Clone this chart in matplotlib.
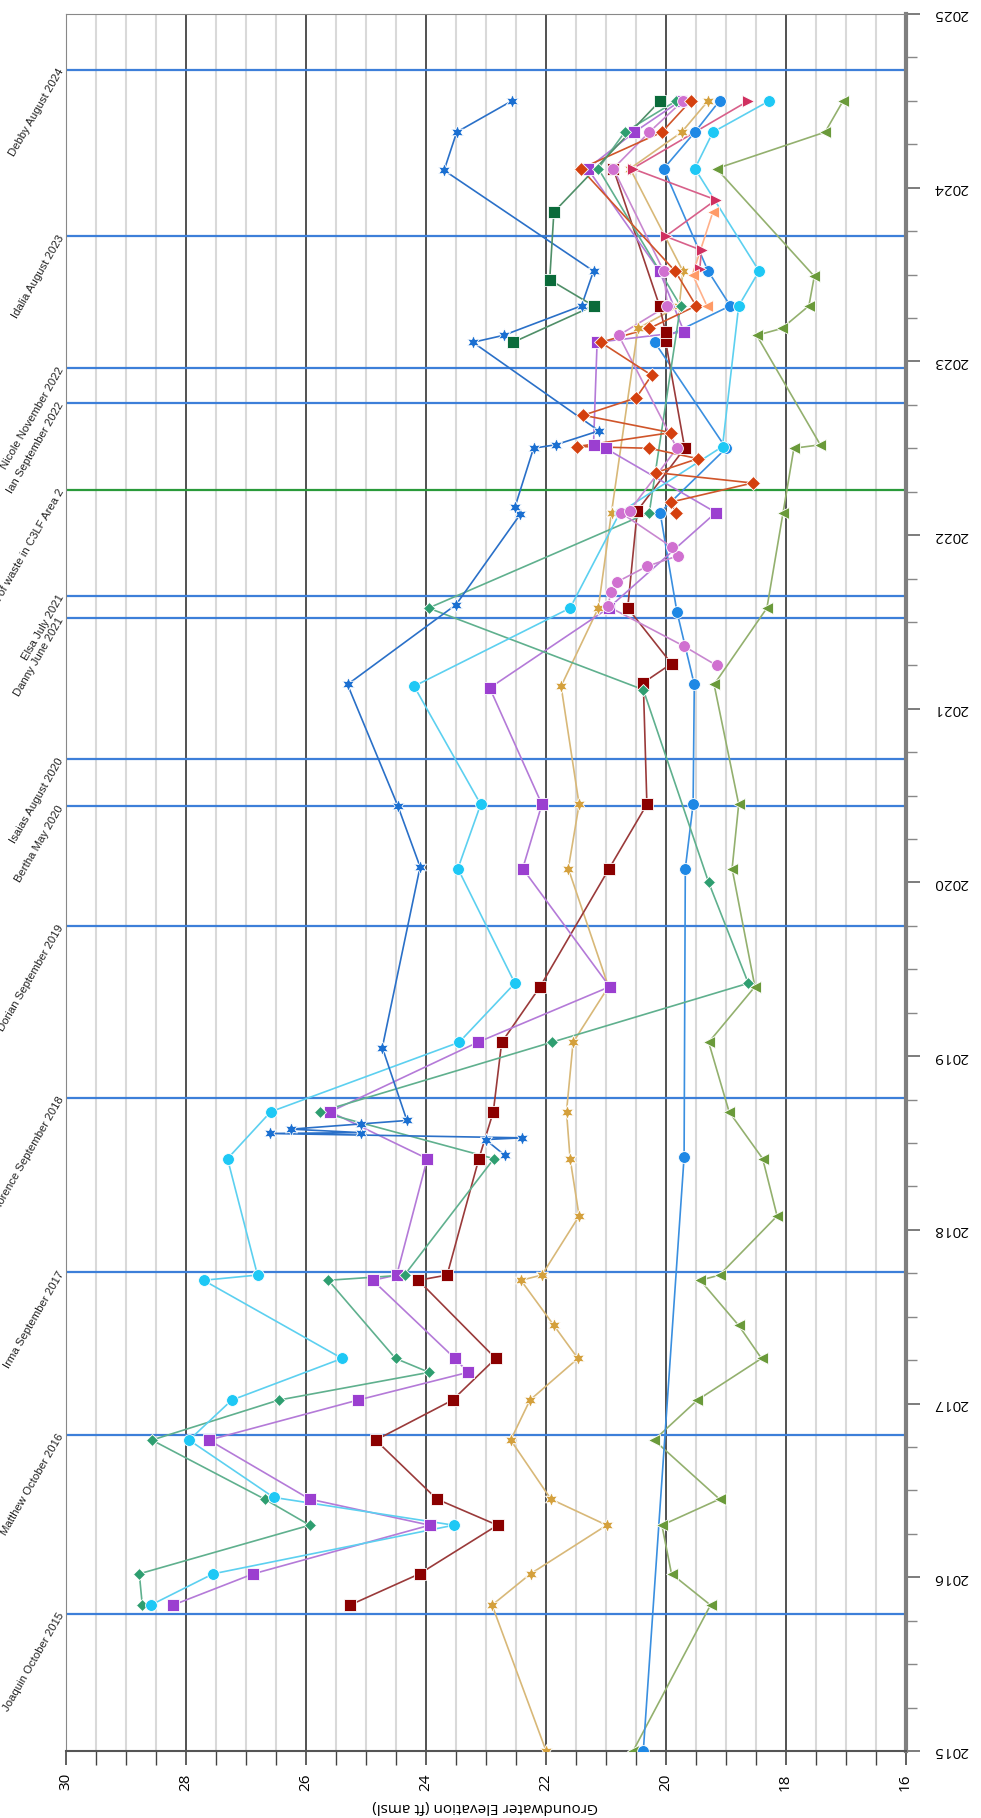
import numpy as np
import matplotlib
matplotlib.use('Agg')
import matplotlib.pyplot as plt
import matplotlib.transforms as mtransforms

plt.rcParams['font.family'] = ['Open Sans', 'DejaVu Sans']

# ---- event lines (decimal year) ----
event_names = ['Joaquin October 2015', 'Matthew October 2016', 'Irma September 2017',
               'Florence September 2018', 'Dorian September 2019', 'Bertha May 2020',
               'Isaias August 2020', 'Danny June 2021', 'Elsa July 2021',
               'Placement of waste in C3LF Area 2', 'Ian September 2022',
               'Nicole November 2022', 'Idalia August 2023', 'Debby August 2024']
event_dates = [2015.79, 2016.82, 2017.76, 2018.76, 2019.75, 2020.44, 2020.71,
               2021.52, 2021.65, 2022.26, 2022.76, 2022.96, 2023.72, 2024.68]
event_colors = ['#3d7fd9'] * 9 + ['#2a9a3a'] + ['#3d7fd9'] * 4

# ---- well series: decimal year / elevation (ft amsl) ----
star_t = [2018.43, 2018.52, 2018.53, 2018.555, 2018.56, 2018.58, 2018.61, 2018.63, 2019.05,
          2020.09, 2020.44, 2021.14, 2021.60, 2022.12, 2022.16, 2022.50, 2022.52, 2022.60,
          2023.11, 2023.15, 2023.32, 2023.52, 2024.10, 2024.32, 2024.50]
star_e = [22.68, 23.00, 22.39, 26.59, 25.08, 26.24, 25.08, 24.31, 24.72,
          24.09, 24.46, 25.30, 23.49, 22.42, 22.51, 22.20, 21.83, 21.11,
          23.21, 22.70, 21.40, 21.20, 23.69, 23.48, 22.56]

cyan_t = [2015.84, 2016.02, 2016.30, 2016.46, 2016.79, 2017.02, 2017.26, 2017.71, 2017.74,
          2018.41, 2018.68, 2019.08, 2019.42, 2020.08, 2020.45, 2021.13, 2021.58, 2022.13,
          2022.51, 2023.32, 2023.52, 2024.11, 2024.32, 2024.50]
cyan_e = [28.58, 27.54, 23.53, 26.53, 27.94, 27.23, 25.39, 27.70, 26.80,
          27.30, 26.58, 23.44, 22.51, 23.46, 23.08, 24.19, 21.59, 20.76,
          19.05, 18.78, 18.44, 19.51, 19.21, 18.27]

teal_t = [2015.84, 2016.02, 2016.30, 2016.45, 2016.79, 2017.02, 2017.18, 2017.26, 2017.71,
          2017.74, 2018.41, 2018.68, 2019.08, 2019.42, 2020.00, 2021.11, 2021.58, 2022.13,
          2023.32, 2024.11, 2024.32, 2024.50]
teal_e = [28.72, 28.77, 25.93, 26.68, 28.56, 26.45, 23.94, 24.50, 25.62,
          24.35, 22.86, 25.76, 21.90, 18.62, 19.28, 20.37, 23.95, 20.27,
          19.75, 21.12, 20.68, 19.82]

purple_t = [2015.84, 2016.02, 2016.30, 2016.45, 2016.79, 2017.02, 2017.18, 2017.26, 2017.71,
            2017.74, 2018.41, 2018.68, 2019.08, 2019.40, 2020.08, 2020.45, 2021.12, 2021.58,
            2022.13, 2022.50, 2022.52, 2023.11, 2023.17, 2023.52, 2024.11, 2024.32, 2024.50]
purple_e = [28.21, 26.87, 23.93, 25.93, 27.61, 25.13, 23.29, 23.51, 24.88,
            24.48, 23.97, 25.59, 23.13, 20.93, 22.38, 22.06, 22.93, 20.95,
            19.16, 21.00, 21.20, 21.14, 19.69, 20.10, 21.30, 20.52, 19.75]

dred_t = [2015.84, 2016.02, 2016.30, 2016.45, 2016.79, 2017.02, 2017.26, 2017.71, 2017.74,
          2018.41, 2018.68, 2019.08, 2019.40, 2020.08, 2020.45, 2021.15, 2021.26, 2021.58,
          2022.14, 2022.50, 2023.12, 2023.17, 2023.32, 2024.11]
dred_e = [25.26, 24.10, 22.80, 23.81, 24.83, 23.55, 22.83, 24.12, 23.64,
          23.11, 22.87, 22.73, 22.09, 20.94, 20.31, 20.37, 19.90, 20.63,
          20.47, 19.68, 20.00, 20.00, 20.10, 20.87]

gold_t = [2015.00, 2015.84, 2016.02, 2016.30, 2016.45, 2016.79, 2017.02, 2017.26, 2017.45,
          2017.71, 2017.74, 2018.08, 2018.41, 2018.68, 2019.08, 2019.40, 2020.08, 2020.45,
          2021.13, 2021.58, 2022.13, 2023.19, 2023.32, 2023.52, 2024.11, 2024.32, 2024.50]
gold_e = [21.99, 22.89, 22.25, 20.98, 21.91, 22.58, 22.26, 21.46, 21.86,
          22.41, 22.06, 21.44, 21.59, 21.65, 21.54, 20.95, 21.62, 21.44,
          21.74, 21.12, 20.90, 20.46, 19.77, 19.71, 20.59, 19.73, 19.29]

blue_t = [2015.00, 2018.42, 2020.08, 2020.45, 2021.14, 2021.56, 2022.13, 2022.50, 2023.11,
          2023.32, 2023.52, 2024.11, 2024.32, 2024.50]
blue_e = [20.37, 19.69, 19.67, 19.54, 19.52, 19.81, 20.09, 18.99, 20.18,
          18.92, 19.29, 20.03, 19.51, 19.10]

olive_t = [2015.00, 2015.84, 2016.02, 2016.30, 2016.45, 2016.79, 2017.02, 2017.26, 2017.45,
           2017.71, 2017.74, 2018.08, 2018.41, 2018.68, 2019.08, 2019.40, 2020.08, 2020.45,
           2021.14, 2021.58, 2022.13, 2022.50, 2022.52, 2023.15, 2023.19, 2023.32, 2023.49,
           2024.11, 2024.32, 2024.50]
olive_e = [20.54, 19.25, 19.90, 20.06, 19.10, 20.19, 19.47, 18.40, 18.78,
           19.42, 19.10, 18.14, 18.38, 18.94, 19.28, 18.51, 18.89, 18.78,
           19.19, 18.31, 18.04, 17.86, 17.42, 18.48, 18.06, 17.61, 17.52,
           19.15, 17.34, 17.04]

ored_t = [2022.13, 2022.19, 2022.30, 2022.36, 2022.44, 2022.50, 2022.51, 2022.59, 2022.69,
          2022.79, 2022.92, 2023.11, 2023.19, 2023.32, 2023.52, 2024.11, 2024.32, 2024.50]
ored_e = [19.83, 19.91, 18.55, 20.16, 19.46, 20.27, 21.47, 19.91, 21.37,
          20.49, 20.23, 21.08, 20.27, 19.49, 19.84, 21.41, 20.06, 19.58]

orchid_t = [2021.25, 2021.36, 2021.59, 2021.67, 2021.73, 2021.82, 2021.88, 2021.93, 2022.13,
            2022.14, 2022.50, 2023.15, 2023.32, 2023.52, 2024.11, 2024.32, 2024.50]
orchid_e = [19.15, 19.69, 20.96, 20.91, 20.81, 20.31, 19.80, 19.89, 20.75,
            20.60, 19.81, 20.78, 19.97, 20.03, 20.87, 20.27, 19.71]

dgreen_t = [2023.11, 2023.32, 2023.47, 2023.86, 2024.50]
dgreen_e = [22.54, 21.20, 21.93, 21.86, 20.09]

crim_t = [2023.53, 2023.64, 2023.72, 2023.93, 2024.11, 2024.50]
crim_e = [19.43, 19.40, 20.00, 19.16, 20.55, 18.62]

lorange_t = [2023.32, 2023.50, 2023.86]
lorange_e = [19.31, 19.55, 19.21]

star6 = (6, 1, 0)
# (times, elevations, line colour, marker colour, marker, size)
series = [
    (olive_t, olive_e, '#93b06e', '#6a9a3a', '<', 9),
    (gold_t, gold_e, '#d8b878', '#d4a03c', star6, 10),
    (blue_t, blue_e, '#3a8fe0', '#1e88e5', 'o', 8.5),
    (dred_t, dred_e, '#9a3a3a', '#8b0000', 's', 8),
    (purple_t, purple_e, '#b47ad8', '#9b3fd0', 's', 8),
    (teal_t, teal_e, '#5fb08e', '#2e9e70', 'D', 6.5),
    (cyan_t, cyan_e, '#5cd0f0', '#1ec8f5', 'o', 8.5),
    (star_t, star_e, '#2a70c8', '#1a6fd1', star6, 10),
    (orchid_t, orchid_e, '#c887d0', '#d070d0', 'o', 8.5),
    (ored_t, ored_e, '#d0552a', '#d4400f', 'D', 7),
    (dgreen_t, dgreen_e, '#4f8f68', '#0a6b3a', 's', 8),
    (crim_t, crim_e, '#d8608a', '#d03060', '>', 9),
    (lorange_t, lorange_e, '#ffb08a', '#ff9a66', '<', 9),
]

fig = plt.figure(figsize=(9.81, 18.18), dpi=100)
ax = fig.add_axes([65.5 / 981, 1 - 1751 / 1818, 840 / 981, 1737 / 1818])

for t, e, lc, mc, mk, ms in series:
    ax.plot(e, t, color=lc, lw=1.2, zorder=3)
    ax.plot(e, t, ls='none', marker=mk, ms=ms, color=mc,
            markeredgecolor='white', markeredgewidth=0.6, zorder=4)

trans = mtransforms.blended_transform_factory(ax.transAxes, ax.transData)
for name, d, c in zip(event_names, event_dates, event_colors):
    ax.axhline(d, color=c, lw=1.6, zorder=2)
    ax.text(-0.005, d, name, transform=trans, rotation=60, rotation_mode='anchor',
            ha='right', va='center', fontsize=8.2, color='#222222', clip_on=False,
            family=['Liberation Sans Narrow', 'Liberation Sans'])

ax.set_xlim(30, 16)
ax.set_ylim(2015, 2025)

ax.set_xticks(np.arange(16, 31, 2))
ax.set_xticks(np.arange(16, 30.01, 0.5), minor=True)
ax.set_xticklabels([str(v) for v in range(16, 31, 2)], rotation=90, fontsize=11)
ax.grid(which='major', axis='x', color='#333333', lw=1.2)
ax.grid(which='minor', axis='x', color='#d9d9d9', lw=1.5)
ax.set_axisbelow(True)

years = list(range(2015, 2026))
ax.yaxis.tick_right()
ax.set_yticks(years)
ax.set_yticks(np.arange(2015, 2025.01, 0.25), minor=True)
ax.set_yticklabels([str(y) for y in years], rotation=180, fontsize=11, va='center')

ax.tick_params(axis='x', which='major', direction='out', length=10, width=1.2,
               color='#444444', pad=6)
ax.tick_params(axis='x', which='minor', direction='out', length=10, width=1.0,
               color='#444444')
ax.tick_params(axis='y', which='major', direction='out', length=10, width=1.2,
               color='#666666', pad=10)
ax.tick_params(axis='y', which='minor', direction='out', length=8, width=1.0,
               color='#888888')

ax.set_xlabel('Groundwater Elevation (ft amsl)', rotation=180, fontsize=11, labelpad=6)

ax.spines['right'].set_color('#7f7f7f')
ax.spines['right'].set_linewidth(3)
ax.spines['bottom'].set_color('#555555')
ax.spines['bottom'].set_linewidth(1.5)
ax.spines['left'].set_color('#888888')
ax.spines['top'].set_color('#888888')

fig.savefig('out.png', dpi=100)
